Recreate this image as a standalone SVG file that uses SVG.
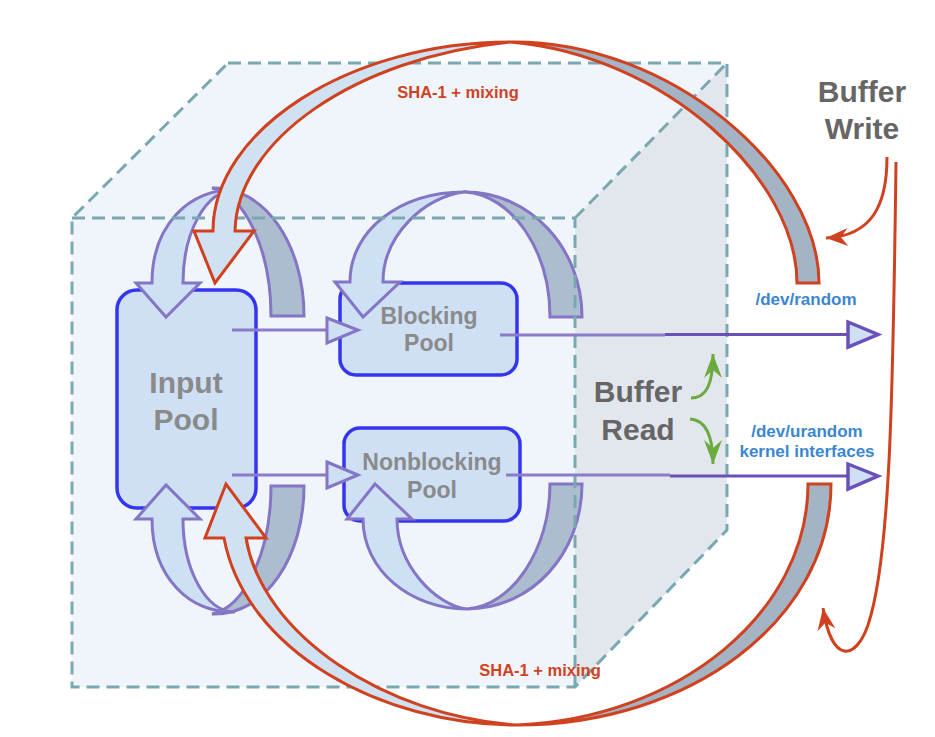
<svg xmlns="http://www.w3.org/2000/svg" width="935" height="737" viewBox="0 0 935 737">
<defs>
<style>
.edge{fill:none;stroke:#7aa8b0;stroke-width:3;stroke-dasharray:13 7}
.box{fill:#cfe0f5;stroke:#3535f0;stroke-width:3.5}
.pl{fill:#cde0f4;stroke:#8575c5;stroke-width:3;stroke-linejoin:miter}
.pg{fill:#adbdd0;stroke:#8575c5;stroke-width:3;stroke-linejoin:miter}
.rl{fill:#d0e2f2;stroke:#d0421f;stroke-width:3}
.rg{fill:#a4b4c4;stroke:#d0421f;stroke-width:3}
.ln1{stroke:#8a7cc8;stroke-width:3;fill:none}
.ln2{stroke:#6a50b8;stroke-width:3;fill:none}
.ah1{fill:#cfe0f4;stroke:#8575c5;stroke-width:3}
.ah2{fill:#cfe0f4;stroke:#6a50b8;stroke-width:3.5}
.rc{fill:none;stroke:#d0421f;stroke-width:3}
.gc{fill:none;stroke:#6aaa3f;stroke-width:3}
text{font-family:"Liberation Sans",Arial,sans-serif;font-weight:bold;text-anchor:middle}
.pt{fill:#8a8a8a}
.bt{fill:#666666;font-size:30px}
.sha{fill:#d0421f;font-size:16.5px}
.dev{fill:#3a87d0;font-size:17px}
</style>
<marker id="mr" viewBox="-24 -11 26 22" markerWidth="26" markerHeight="22" refX="0" refY="0" orient="auto" markerUnits="userSpaceOnUse">
<path d="M0,0 L-22,-9 L-15,0 L-22,9 Z" fill="#d0421f"/>
</marker>
<marker id="mg" viewBox="-26 -11 28 22" markerWidth="28" markerHeight="22" refX="0" refY="0" orient="auto" markerUnits="userSpaceOnUse">
<path d="M0,0 L-24,-9 L-16,0 L-24,9 Z" fill="#6aaa3f"/>
</marker>
</defs>
<rect width="935" height="737" fill="#ffffff"/>
<g id="cube">
<polygon points="72,218 228,63 727,63 575,218" fill="#f0f5fc"/>
<rect x="72" y="218" width="503" height="469" fill="#f0f5fc"/>
<polygon points="575,218 727,63 727,530 575,687" fill="#e2e7ee"/>
</g>
<g id="input-pool">
<rect class="box" x="117" y="290" width="139" height="218" rx="20"/>
<text class="pt" x="186" y="393" font-size="30">Input</text>
<text class="pt" x="186" y="430" font-size="30">Pool</text>
</g>
<g id="blocking-pool">
<rect class="box" x="340" y="283" width="177" height="92" rx="16"/>
<text class="pt" x="429" y="324" font-size="23">Blocking</text>
<text class="pt" x="429" y="351" font-size="23">Pool</text>
</g>
<g id="nonblocking-pool">
<rect class="box" x="344" y="428" width="176" height="93" rx="16"/>
<text class="pt" x="432" y="470" font-size="23">Nonblocking</text>
<text class="pt" x="432" y="498" font-size="23">Pool</text>
</g>
<g id="loops">
<g id="input-top-loop">
<path class="pg" d="M212,188 C265,186 304,245 304,316 L271,316 C271,250 245,195 212,188 Z"/>
<path class="pl" d="M152,283 C152,225 190,188 235,190 C206,190 183,232 183,283 L200,283 L166,317 L136,283 Z"/>
</g>
<use href="#input-top-loop" transform="translate(0,802) scale(1,-1)"/>
<path class="pg" d="M465,192 C530,192 582,248 582,317 L550,317 C550,250 512,195 465,192 Z"/>
<path class="pl" d="M350,282 C350,230 400,192 465,192 C425,196 383,235 383,282 L400,282 L363,317 L335,282 Z"/>
<path class="pg" d="M467,609 C532,609 582,553 582,484 L550,484 C550,550 512,606 467,609 Z"/>
<path class="pl" d="M363,519 C363,570 410,609 467,609 C435,605 397,565 397,519 L412,519 L375,484 L347,519 Z"/>
</g>
<path class="edge" d="M228,63 H727 V530 L575,687 H72 V218 L228,63 M72,218 H575 V687 M575,218 L727,63"/>
<g id="connectors">
<line class="ln1" x1="232" y1="330" x2="327" y2="330"/>
<polygon class="ah1" points="327,318 358,330 327,343"/>
<line class="ln1" x1="232" y1="475" x2="327" y2="475"/>
<polygon class="ah1" points="327,462 358,475 327,488"/>
<line class="ln1" x1="500" y1="335" x2="665" y2="335"/>
<line class="ln2" x1="665" y1="334.5" x2="848" y2="334.5"/>
<polygon class="ah2" points="848,322 878,334.5 848,347"/>
<line class="ln1" x1="506" y1="475" x2="670" y2="475"/>
<line class="ln2" x1="670" y1="476" x2="848" y2="476"/>
<polygon class="ah2" points="848,464 878,476 848,489"/>
<path class="rc" d="M887,157 C887,205 872,236 826,238" marker-end="url(#mr)"/>
<path class="rc" d="M896,162 C893,400 890,560 868,625 C856,660 832,665 823,608" marker-end="url(#mr)"/>
<path class="gc" d="M691,398 C706,398 713,385 713,354" marker-end="url(#mg)"/>
<path class="gc" d="M690,419 C706,420 713,435 713,464" marker-end="url(#mg)"/>
</g>
<g id="sha-top">
<path class="rg" d="M510,42 C670,40 819,170 819,283 L797,283 C797,178 665,55 510,42 Z"/>
<path class="rl" d="M213,231 C213,130 350,42 510,42 C355,58 237,140 235,231 L254,231 L215,283 L194,231 Z"/>
</g>
<g id="sha-bottom">
<path class="rg" d="M517,725 C690,725 831,620 831,484 L808,484 C808,612 680,718 517,725 Z"/>
<path class="rl" d="M224,538 C245,650 380,725 517,725 C385,716 262,635 246,538 L266,538 L226,484 L205,538 Z"/>
</g>
<g id="labels">
<text class="sha" x="458" y="98">SHA-1 + mixing</text>
<text class="sha" x="540" y="676">SHA-1 + mixing</text>
<text class="bt" x="862" y="102">Buffer</text>
<text class="bt" x="862" y="139">Write</text>
<text class="bt" x="638" y="402">Buffer</text>
<text class="bt" x="638" y="440">Read</text>
<text class="dev" x="806" y="305">/dev/random</text>
<text class="dev" x="807" y="437">/dev/urandom</text>
<text class="dev" x="807" y="457">kernel interfaces</text>
</g>
</svg>
